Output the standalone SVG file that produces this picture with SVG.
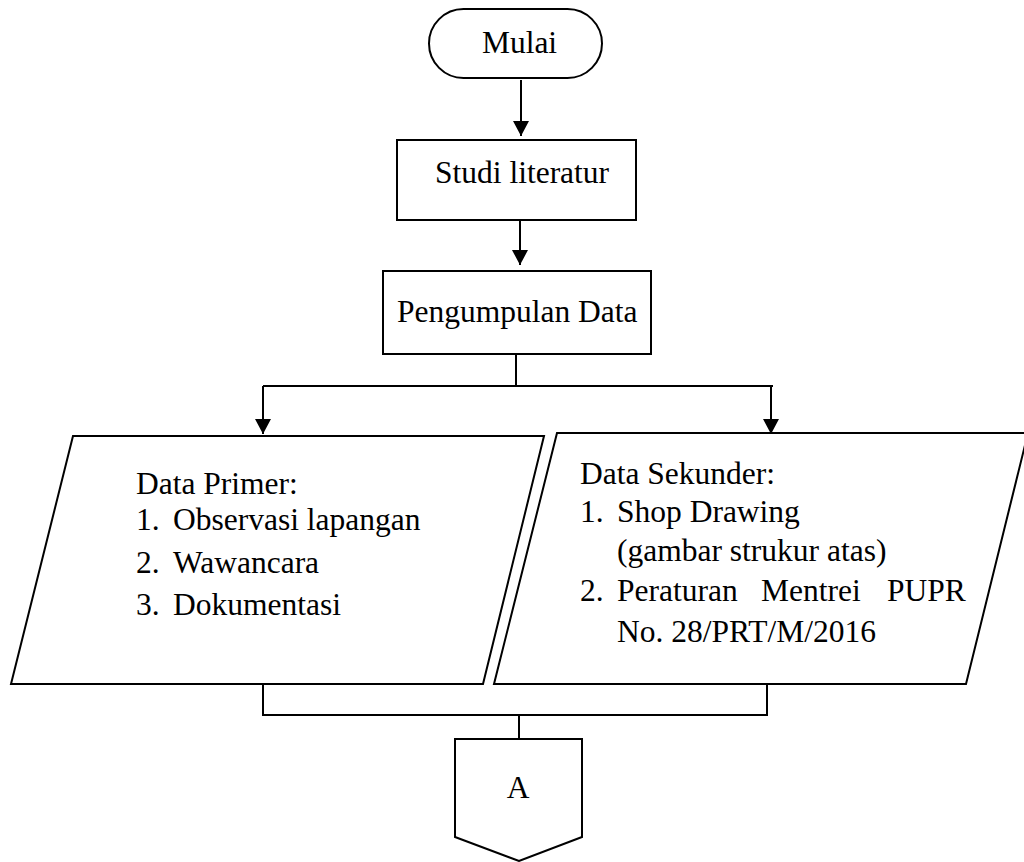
<svg xmlns="http://www.w3.org/2000/svg" width="1024" height="862" viewBox="0 0 1024 862">
<style>
.s{fill:#fff;stroke:#000;stroke-width:2}
.c{fill:none;stroke:#000;stroke-width:2}
.t{font-family:"Liberation Serif","Times New Roman","DejaVu Serif",serif;font-size:31.5px;fill:#000}
.m{text-anchor:middle}
</style>
<defs>
<marker id="ah" markerWidth="16" markerHeight="16" refX="15" refY="8" orient="auto" markerUnits="userSpaceOnUse">
<path d="M0,0 L15,8 L0,16 Z" fill="#000"/>
</marker>
</defs>
<rect width="1024" height="862" fill="#fff"/>
<g id="connectors">
<line class="c" x1="521" y1="80" x2="521" y2="136" marker-end="url(#ah)"/>
<line class="c" x1="520" y1="220" x2="520" y2="265" marker-end="url(#ah)"/>
<path class="c" d="M516,354 V386 M263,386 H773"/>
<line class="c" x1="263" y1="386" x2="263" y2="434" marker-end="url(#ah)"/>
<line class="c" x1="771" y1="386" x2="771" y2="434" marker-end="url(#ah)"/>
<path class="c" d="M263,684 V715 H767 V684 M519,715 V739"/>
</g>
<g id="mulai">
<rect class="s" x="429" y="9" width="173" height="69" rx="34.5" ry="34.5"/>
<text class="t m" x="519.5" y="53">Mulai</text>
</g>
<g id="studi">
<rect class="s" x="397" y="140" width="239" height="80"/>
<text class="t" x="435" y="183">Studi literatur</text>
</g>
<g id="pengumpulan">
<rect class="s" x="383" y="271" width="268" height="83"/>
<text class="t" x="397" y="322">Pengumpulan Data</text>
</g>
<g id="primer">
<polygon class="s" points="73,436 544,436 483,684 11,684"/>
<text class="t" x="136" y="494">Data Primer:</text>
<text class="t" y="530"><tspan x="136">1.</tspan><tspan x="173">Observasi lapangan</tspan></text>
<text class="t" y="573"><tspan x="136">2.</tspan><tspan x="173">Wawancara</tspan></text>
<text class="t" y="615"><tspan x="136">3.</tspan><tspan x="173">Dokumentasi</tspan></text>
</g>
<g id="sekunder">
<polygon class="s" points="557,433 1028,433 966,684 494,684"/>
<text class="t" x="580" y="484">Data Sekunder:</text>
<text class="t" y="522"><tspan x="580">1.</tspan><tspan x="617">Shop Drawing</tspan></text>
<text class="t" x="617" y="561">(gambar strukur atas)</text>
<text class="t" y="601"><tspan x="580">2.</tspan><tspan x="617">Peraturan</tspan><tspan x="761">Mentrei</tspan><tspan x="887">PUPR</tspan></text>
<text class="t" x="617" y="642">No. 28/PRT/M/2016</text>
</g>
<g id="a">
<polygon class="s" points="455,739 582,739 582,837 519,861 455,837"/>
<text class="t m" x="518" y="798">A</text>
</g>
</svg>
